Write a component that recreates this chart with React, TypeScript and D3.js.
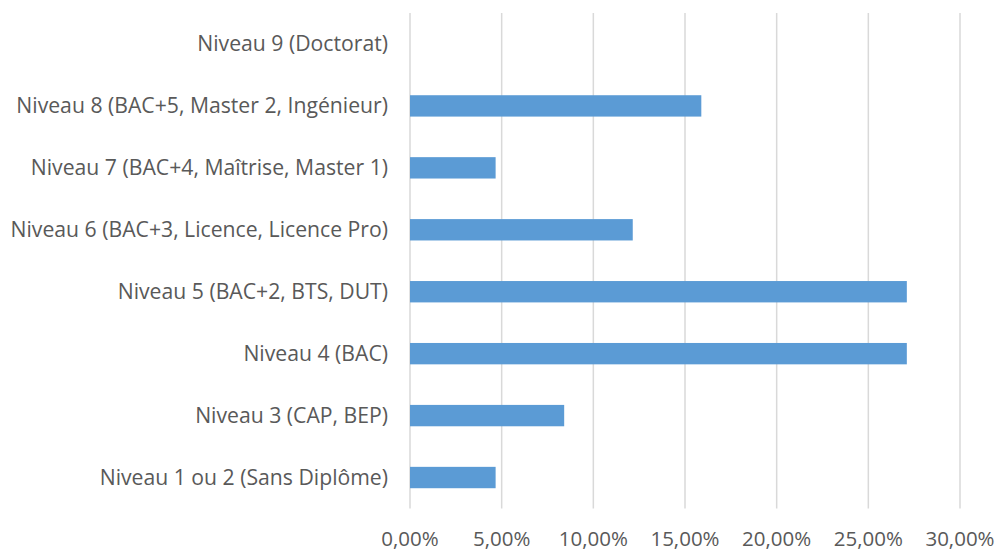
import React from "react";
import * as d3 from "d3";

const categories = [
  "Niveau 9 (Doctorat)",
  "Niveau 8 (BAC+5, Master 2, Ingénieur)",
  "Niveau 7 (BAC+4, Maîtrise, Master 1)",
  "Niveau 6 (BAC+3, Licence, Licence Pro)",
  "Niveau 5 (BAC+2, BTS, DUT)",
  "Niveau 4 (BAC)",
  "Niveau 3 (CAP, BEP)",
  "Niveau 1 ou 2 (Sans Diplôme)",
];
const values = [0, 0.1589, 0.0467, 0.1215, 0.271, 0.271, 0.0841, 0.0467];
const ticks = [0, 0.05, 0.1, 0.15, 0.2, 0.25, 0.3];

const W = 998;
const H = 551;
const left = 410;
const right = 960;
const top = 13;
const bottom = 508.5;

export default function App() {
  const x = d3.scaleLinear().domain([0, 0.3]).range([left, right]);
  const y = d3.scaleBand<string>().domain(categories).range([top, bottom]).paddingInner(0.655).paddingOuter(0.3275);
  const fmt = (v: number) => (v * 100).toFixed(2).replace(".", ",") + "%";
  const font = "'Open Sans', sans-serif";
  return (
    <svg width={W} height={H} style={{ position: "absolute", left: 0, top: 0 }}>
      <rect width={W} height={H} fill="#fff" />
      {ticks.map((t) => (
        <line key={t} x1={x(t)} x2={x(t)} y1={top} y2={bottom} stroke="#D9D9D9" strokeWidth={1.5} />
      ))}
      {categories.map((c, i) => (
        <rect key={c} x={x(0)} y={y(c)} width={x(values[i]) - x(0)} height={y.bandwidth()} fill="#5B9BD5" />
      ))}
      {categories.map((c) => (
        <text key={c} x={388} y={(y(c) as number) + y.bandwidth() / 2} dy="0.35em" textAnchor="end" fontFamily={font} fontSize={21.2} fill="#595959">
          {c}
        </text>
      ))}
      {ticks.map((t) => (
        <text key={t} x={x(t)} y={539} dy="0.35em" textAnchor="middle" fontFamily={font} fontSize={20.5} fill="#595959">
          {fmt(t)}
        </text>
      ))}
    </svg>
  );
}
